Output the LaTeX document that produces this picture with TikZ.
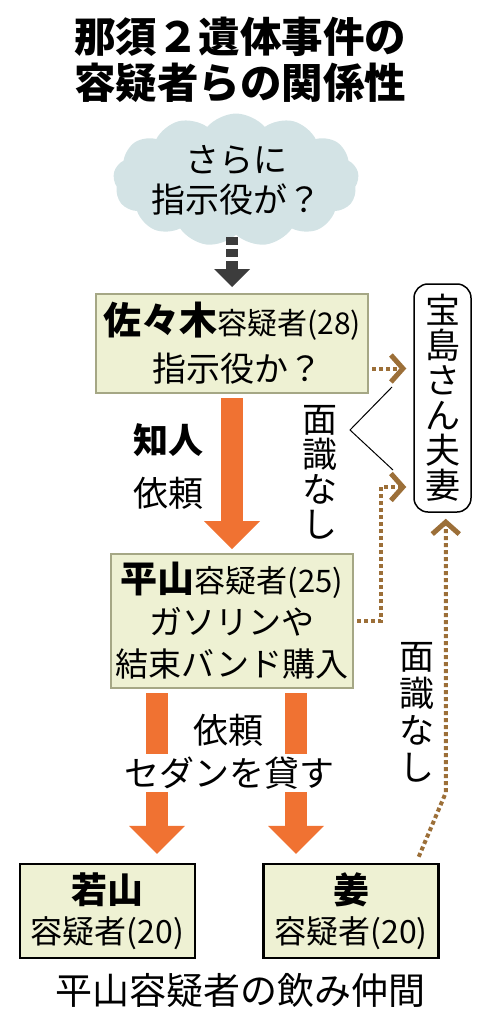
\documentclass[tikz,border=0pt]{standalone}
\usepackage{fontspec}
\setmainfont{Noto Sans CJK JP}
\usetikzlibrary{arrows.meta}
\usetikzlibrary{shapes.symbols}
\definecolor{boxfill}{HTML}{EEF1D3}
\definecolor{boxline}{HTML}{A5A785}
\definecolor{cloudblue}{HTML}{D3E3E5}
\definecolor{arroworange}{HTML}{F07232}
\definecolor{darkgrey}{HTML}{3C3C3C}
\definecolor{dotbrown}{HTML}{9C6F38}

\begin{document}
\begin{tikzpicture}[
		x=1pt, y=-1pt,
		thin,
		>=stealth,
		suspect/.style={rectangle, draw=boxline, line width=2pt, fill=boxfill, inner sep=0pt, align=center},
		friend/.style={rectangle, draw=black, line width=2.5pt, fill=boxfill, inner sep=0pt, align=center,
			minimum width=175pt, minimum height=94pt, font=\fontsize{32}{40}\selectfont},
		label/.style={align=center, font=\fontsize{35}{35}\selectfont},
		push/.style={arroworange, line width=22pt, -{Triangle[length=28pt,width=56pt,line width=0pt]}},
		meet/.style={dotbrown, line width=4pt, dash pattern=on 4pt off 3pt,
			-{Straight Barb[length=12pt,width=27pt,line width=5pt]}},
	]
		\useasboundingbox (0,0) rectangle (487,1024);

		% title
		\node (title) at (240, 60) [align=center, font=\fontsize{41.5}{46}\bfseries\selectfont] {那須２遺体事件の\\容疑者らの関係性};

		% people
		\node (cloud) at (236, 180) [cloud, cloud puffs=13, cloud puff arc=100, aspect=2.2, fill=cloudblue, inner sep=0pt,
			minimum width=228pt, minimum height=104pt, align=center, font=\fontsize{34}{40}\selectfont] {さらに\\指示役が？};
		\node (sasaki) at (232, 343.5) [suspect, minimum width=272pt, minimum height=99pt, font=\fontsize{34}{47}\selectfont]
			{{\fontsize{38}{47}\selectfont\bfseries 佐々木}{\fontsize{30}{47}\selectfont 容疑者(28)}\\\hspace*{10pt}指示役か？};
		\node (hirayama) at (232, 621) [suspect, minimum width=242pt, minimum height=134pt, font=\fontsize{33}{42}\selectfont]
			{{\fontsize{37}{42}\selectfont\bfseries 平山}{\fontsize{31}{42}\selectfont 容疑者(25)}\\ガソリンや\\結束バンド購入};
		\node (takarajima) at (442.5, 398) [rectangle, rounded corners=14pt, draw=black, line width=1.5pt, fill=white,
			minimum width=57pt, minimum height=228pt, label] {宝\\島\\さ\\ん\\夫\\妻};
		\begin{scope}[every node/.style={friend}]
			\node (wakayama) at (107.5, 911) {{\fontsize{36}{40}\selectfont\bfseries 若山}\\容疑者(20)};
			\node (jiang) at (351, 911) {{\fontsize{36}{40}\selectfont\bfseries 姜}\\容疑者(20)};
		\end{scope}

		% relations
		\draw [darkgrey, line width=12pt, dash pattern=on 8pt off 4pt on 8pt off 4pt on 300pt,
			-{Triangle[length=18pt,width=36pt,line width=0pt]}, shorten <=2pt, shorten >=6pt]
			(sasaki.north |- cloud.south) -- (sasaki.north);
		\draw [push, shorten <=4pt, shorten >=4pt] (sasaki) -- (hirayama);
		\draw [push, shorten <=4pt, shorten >=9pt] ([xshift=-75pt]hirayama.south) -- ([xshift=-75pt]hirayama.south |- wakayama.north);
		\draw [push, shorten <=4pt, shorten >=9pt] ([xshift=64pt]hirayama.south) -- ([xshift=64pt]hirayama.south |- jiang.north);
		\draw [meet, shorten <=3pt, shorten >=7pt] ([yshift=-25pt]sasaki.east) -- ([yshift=-25pt]sasaki.east -| takarajima.west);
		\draw [meet, shorten <=3pt, shorten >=7pt] (hirayama.east) -- ++(27,0) |- ([yshift=-89pt]takarajima.west);
		\draw [meet, shorten >=6pt] ([xshift=-21pt,yshift=6pt]jiang.north east) -- ++(27,-64) coordinate (bend) -- (bend |- takarajima.south);

		% brace
		\coordinate (braceTop) at (392, 387);
		\coordinate (braceTip) at (350, 430);
		\coordinate (braceBot) at (393, 470);
		\draw [black, line width=1pt] (braceTop) -- (braceTip) -- (braceBot);

		% labels
		\node (acquaint) at (168, 440) [label, font=\fontsize{35}{35}\bfseries\selectfont] {知人};
		\node (request1) at (168, 493) [label] {依頼};
		\node (nomeet1) at (320, 472) [label] {面\\識\\な\\し};
		\node (nomeet2) at (417, 712) [label, font=\fontsize{35}{37}\selectfont] {面\\識\\な\\し};
		\node (request2) at (228, 730) [label] {依頼};
		\node (sedan) at (229, 773) [label, fill=white, inner xsep=2pt, inner ysep=3pt] {セダンを貸す};
		\node (footer) at (240, 990) [label, font=\fontsize{37}{40}\selectfont] {平山容疑者の飲み仲間};
	\end{tikzpicture}
\end{document}
